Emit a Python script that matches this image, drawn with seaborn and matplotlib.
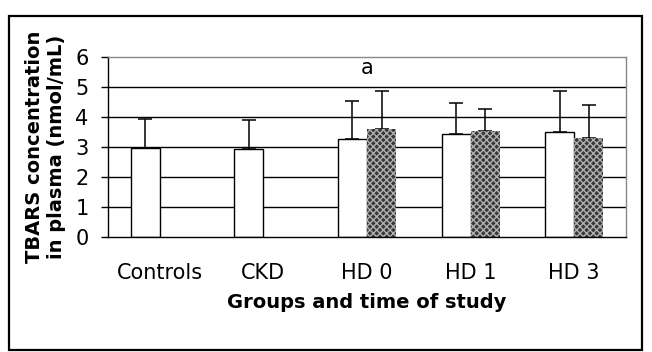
import matplotlib
matplotlib.use("Agg")
import matplotlib.pyplot as plt
import seaborn as sns
import pandas as pd
import numpy as np
from matplotlib.patches import Rectangle

categories = ["Controls", "CKD", "HD 0", "HD 1", "HD 3"]
series1_mean = [2.97, 2.95, 3.27, 3.44, 3.51]
series1_sd = [0.96, 0.95, 1.25, 1.04, 1.37]
series2_mean = [np.nan, np.nan, 3.59, 3.53, 3.29]
series2_sd = [np.nan, np.nan, 1.29, 0.74, 1.12]
yticks = [0, 1, 2, 3, 4, 5, 6]
annotation = "a"

rows = []
for c, m, s in zip(categories, series1_mean, series1_sd):
    rows.append({"group": c, "series": "s1", "value": m, "sd": s})
for c, m, s in zip(categories, series2_mean, series2_sd):
    rows.append({"group": c, "series": "s2", "value": m, "sd": s})
df = pd.DataFrame(rows)

sns.set_style("white")
plt.rcParams["font.family"] = ["DejaVu Sans"]
plt.rcParams["hatch.linewidth"] = 1.0
for k in ["text.color", "axes.labelcolor", "xtick.color", "ytick.color"]:
    plt.rcParams[k] = "black"

fig = plt.figure(figsize=(6.52, 3.52), dpi=100)
W, H = 652, 352
ax = fig.add_axes([108 / W, 1 - 237 / H, (626 - 108) / W, (237 - 57) / H])

WHITE = "#ffffff"
DARK = "#383838"
width = 0.56
sns.barplot(data=df, x="group", y="value", hue="series", order=categories,
            hue_order=["s1", "s2"], palette={"s1": WHITE, "s2": DARK},
            width=width, dodge=True, errorbar=None, legend=False, ax=ax,
            zorder=3, saturation=1)

for p in ax.patches:
    fc = p.get_facecolor()
    if fc[0] > 0.9:
        p.set_edgecolor("black")
        p.set_linewidth(1.0)
    else:
        p.set_edgecolor("#b0b0b0")
        p.set_hatch("xxxxx")
        p.set_linewidth(0)

# error bars (upper only)
off = width / 4
x = np.arange(len(categories))
for xs, m, s in [(x - off, series1_mean, series1_sd), (x + off, series2_mean, series2_sd)]:
    m = np.array(m, dtype=float)
    s = np.array(s, dtype=float)
    ok = ~np.isnan(m)
    ax.errorbar(xs[ok], m[ok], yerr=[np.zeros(ok.sum()), s[ok]], fmt="none",
                ecolor="black", elinewidth=1.1, capsize=4.8, capthick=1.1, zorder=2)

ax.set_ylim(0, 6)
ax.set_xlim(-0.5, len(categories) - 0.5)
ax.set_yticks(yticks)
ax.set_yticklabels([str(t) for t in yticks], fontsize=15)
ax.set_xticks(x)
ax.set_xticklabels(categories, fontsize=15)
ax.set_xticks(np.arange(-0.5, len(categories), 1.0), minor=True)
ax.tick_params(axis="x", which="major", length=0, pad=19)
ax.tick_params(axis="x", which="minor", length=4, width=1, direction="out", color="black")
ax.tick_params(axis="y", which="major", length=5, width=1, direction="out", color="black", pad=9, left=True)

for yv in [1, 2, 3, 4, 5]:
    ax.axhline(yv, color="black", lw=1.0, zorder=1)

for side in ["left", "bottom"]:
    ax.spines[side].set_color("black")
    ax.spines[side].set_linewidth(1.0)
for side in ["top", "right"]:
    ax.spines[side].set_color("#888888")
    ax.spines[side].set_linewidth(1.0)
ax.spines["bottom"].set_zorder(5)

ax.set_xlabel("")
ax.set_ylabel("")
ax.text(2, 5.62, annotation, ha="center", va="center", fontsize=15)

fig.text(46 / W, 1 - 147 / H, "TBARS concentration\nin plasma (nmol/mL)", rotation=90,
         ha="center", va="center", fontsize=14, fontweight="bold", linespacing=1.2,
         multialignment="center")
fig.text(367 / W, 1 - 302 / H, "Groups and time of study", ha="center", va="center",
         fontsize=14, fontweight="bold")

fig.patches.append(Rectangle((9 / W, 1 - 350 / H), (642 - 9) / W, (350 - 16) / H,
                             transform=fig.transFigure, fill=False, edgecolor="black",
                             linewidth=1.6))

fig.savefig("out.png", dpi=100)
